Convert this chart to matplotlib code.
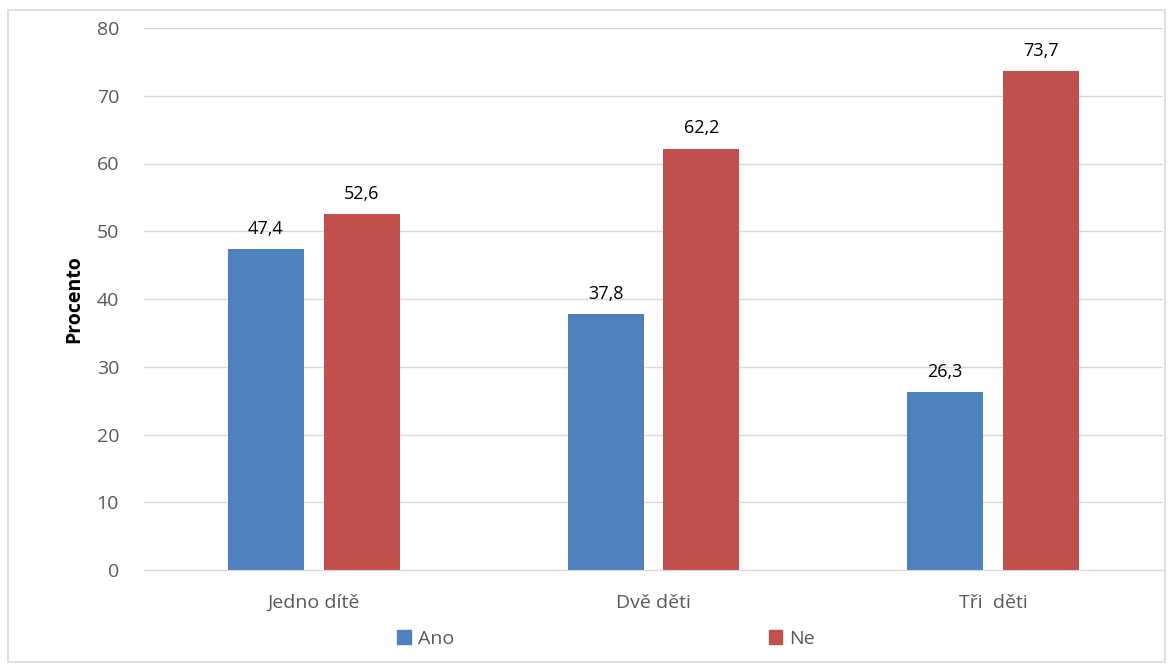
import matplotlib
matplotlib.use("Agg")
import matplotlib.pyplot as plt
from matplotlib.patches import Rectangle, Patch
import numpy as np

categories = ["Jedno dítě", "Dvě děti", "Tři  děti"]
ano = [47.4, 37.8, 26.3]
ne = [52.6, 62.2, 73.7]
series_names = ["Ano", "Ne"]
colors = ["#4f81bd", "#c0504d"]
yticks = [0, 10, 20, 30, 40, 50, 60, 70, 80]

plt.rcParams['font.family'] = ['Open Sans', 'DejaVu Sans']

fig = plt.figure(figsize=(11.7, 6.66), dpi=100)
ax = fig.add_axes([144/1170, 1-570/666, (1163-144)/1170, (570-28)/666])

x = np.arange(len(categories))
w = 0.224
off = 0.141
b1 = ax.bar(x - off, ano, w, color=colors[0], label=series_names[0])
b2 = ax.bar(x + off, ne, w, color=colors[1], label=series_names[1])

for bars, vals in ((b1, ano), (b2, ne)):
    for b, v in zip(bars, vals):
        ax.annotate(f"{v:.1f}".replace(".", ","), (b.get_x() + b.get_width()/2, v),
                    xytext=(0, 8), textcoords="offset points", ha="center", va="bottom",
                    fontsize=13, color="black")

ax.set_xlim(-0.5, 2.5)
ax.set_ylim(0, 80)
ax.set_yticks(yticks)
ax.set_xticks(x)
ax.set_xticklabels(categories)
ax.tick_params(axis="both", length=0, labelsize=14, colors="#595959")
ax.tick_params(axis="x", pad=17)
ax.tick_params(axis="y", pad=18)
ax.yaxis.grid(True, color="#d9d9d9", linewidth=1)
ax.set_axisbelow(True)
for s in ["top", "right", "left"]:
    ax.spines[s].set_visible(False)
ax.spines["bottom"].set_color("#d9d9d9")
ax.set_ylabel("Procento", fontsize=14, fontweight="bold", color="black", labelpad=9)

handles = [Patch(color=c) for c in colors]
fig.legend(handles, series_names, loc="center", bbox_to_anchor=(606/1170, 1-639/666), ncol=2,
           frameon=False, fontsize=14, handlelength=0.7, handleheight=0.7,
           handletextpad=0.35, columnspacing=16.2, labelcolor="#595959")

fig.patches.append(Rectangle((8/1170, 1-662/666), (1165-8)/1170, (662-10)/666,
                             transform=fig.transFigure, fill=False, edgecolor="#d9d9d9", linewidth=1.2))

fig.savefig("out.png", dpi=100)
